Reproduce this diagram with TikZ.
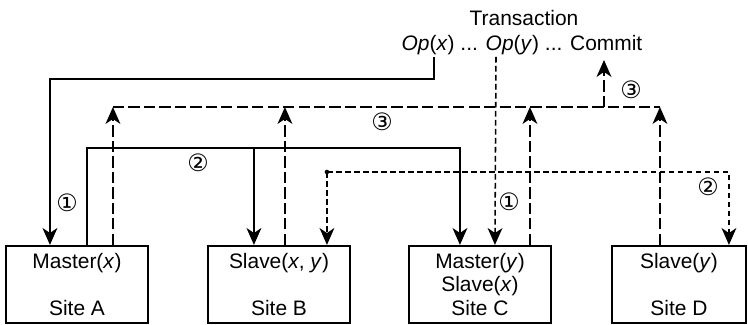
\documentclass[tikz,border=0pt]{standalone}
\usepackage{fontspec}
\setmainfont{Liberation Sans}
\newfontfamily\circfont{DejaVu Sans}
\usetikzlibrary{arrows.meta}
\tikzstyle{every node}=[font=\fontsize{14.9}{16.5}\selectfont]
\tikzstyle{every path}=[line join=miter]
\tikzstyle{site}=[draw,line width=1.5pt,minimum width=3.55cm,minimum height=1.925cm,align=center,inner sep=0pt]
\tikzstyle{msg}=[line width=1.5pt,-{Stealth[length=12pt,width=10.5pt,inset=3.5pt]}]
\tikzstyle{ack}=[msg,dash pattern=on 8pt off 3pt]
\tikzstyle{upd}=[msg,line width=1.1pt,dash pattern=on 4pt off 2.4pt]
\tikzstyle{num}=[font=\circfont\fontsize{17}{17}\selectfont]

\begin{document}
\begin{tikzpicture}
\useasboundingbox (0,0) rectangle (18.7,8.125);
%Sites
 \node[site] (siteA) at (1.925,1.0125) {Master(\textit{x})\\[16.5pt]Site A};
 \node[site] (siteB) at (6.975,1.0125) {Slave(\textit{x}, \textit{y})\\[16.5pt]Site B};
 \node[site] (siteC) at (12,1.0125) {Master(\textit{y})\\Slave(\textit{x})\\Site C};
 \node[site,minimum width=3.35cm] (siteD) at (16.975,1.0125) {Slave(\textit{y})\\[16.5pt]Site D};
%Transaction
 \node (trans) at (13.1,7.675) {Transaction};
 \node (ops) at (13.05,7.0) {\textit{Op}(\textit{x}) ... \textit{Op}(\textit{y}) ... Commit};
 \coordinate (opx) at (10.85,6.7);
 \coordinate (opy) at (12.4,6.7);
 \coordinate (commit) at (15.1,6.625);
%Ports on top of the sites
 \coordinate (aIn) at ([xshift=1.125cm]siteA.north west);
 \coordinate (aOut) at ([xshift=2.05cm]siteA.north west);
 \coordinate (aAck) at ([xshift=2.7cm]siteA.north west);
 \coordinate (bIn) at ([xshift=1.175cm]siteB.north west);
 \coordinate (bAck) at ([xshift=1.95cm]siteB.north west);
 \coordinate (bIn2) at ([xshift=3cm]siteB.north west);
 \coordinate (cIn) at ([xshift=1.3cm]siteC.north west);
 \coordinate (cIn2) at ([xshift=2.175cm]siteC.north west);
 \coordinate (cAck) at ([xshift=3.05cm]siteC.north west);
 \coordinate (dAck) at ([xshift=1.225cm]siteD.north west);
 \coordinate (dIn2) at ([xshift=2.95cm]siteD.north west);
%Op(x): master, then slaves
 \draw[msg] (opx) -- ++(0,-0.55) -| (aIn);
 \draw[msg] (aOut) -- ++(0,2.425) -| (cIn);
 \draw[msg] (bIn) ++(0,2.425) -- (bIn);
%Acknowledgements before Commit
 \coordinate (ackbus) at (0,5.45);
 \draw[ack] (aAck) -- (aAck |- ackbus);
 \draw[ack] (bAck) -- (bAck |- ackbus);
 \draw[ack] (cAck) -- (cAck |- ackbus);
 \draw[ack] (dAck) -- (dAck |- ackbus);
 \draw[ack,-] (aAck |- ackbus) -- (dAck |- ackbus);
 \draw[ack] (commit |- ackbus) -- (commit);
%Op(y): master, then slaves
 \draw[upd] (opy) -- (cIn2);
 \coordinate (ydot) at ([yshift=1.825cm]bIn2);
 \fill (ydot) circle (1.6pt);
 \draw[upd] (ydot) -- (bIn2);
 \draw[upd] (ydot) -| (dIn2);
%Step numbers
 \node[num] (n1x) at (1.675,3.05) {①};
 \node[num] (n2x) at (4.95,4.05) {②};
 \node[num] (n3a) at (9.55,5.075) {③};
 \node[num] (n3b) at (15.775,5.875) {③};
 \node[num] (n1y) at (12.725,3.075) {①};
 \node[num] (n2y) at (17.7,3.45) {②};
\end{tikzpicture}
\end{document}
